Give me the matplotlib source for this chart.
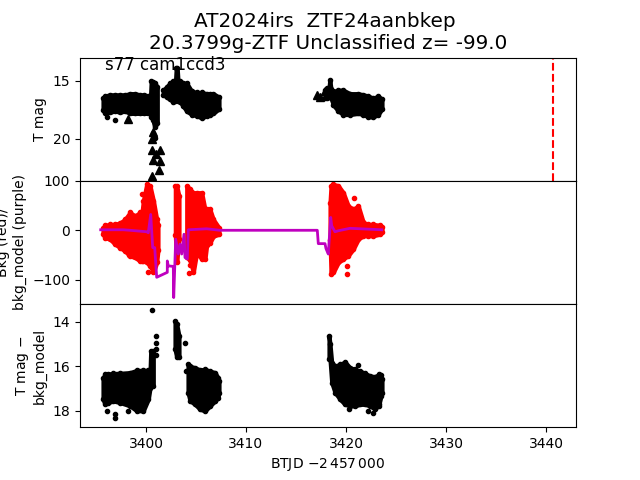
import matplotlib
matplotlib.use("Agg")
import matplotlib.pyplot as plt

# top panel: T mag
mag_t = [3395.7, 3395.9, 3396.4, 3396.9, 3397.4, 3397.9, 3398.4, 3398.9, 3399.4, 3399.8, 3400.2, 3400.45,
	3400.52, 3400.7, 3400.87, 3401.13,
	3401.73, 3402.07, 3402.4, 3402.73, 3402.95, 3403.02, 3403.12, 3403.2, 3403.4, 3403.73, 3404.07, 3404.57, 3405.07, 3405.57, 3406.07, 3406.4, 3406.73, 3407.3,
	3417.9, 3418.07, 3418.3, 3418.38, 3418.5, 3418.75, 3419.23, 3419.73, 3420.4, 3421.23, 3421.73, 3422.23, 3422.73, 3423.23, 3423.6]
mag_top = [16.5, 16.3, 16.2, 16.2, 16.2, 16.2, 16.1, 16.1, 16.2, 16.2, 16.3, 16.3,
	15.0, 15.1, 15.2, 15.5,
	15.8, 15.5, 15.2, 15.0, 15.0, 13.9, 13.9, 15.0, 15.0, 15.2, 15.2, 15.9, 16.0, 16.0, 16.1, 16.1, 16.1, 16.4,
	15.8, 15.6, 15.6, 14.9, 15.7, 15.9, 15.8, 15.8, 16.1, 16.1, 16.2, 16.3, 16.5, 16.3, 16.6]
mag_bot = [17.5, 17.8, 17.7, 17.6, 17.7, 17.6, 17.8, 17.8, 17.8, 17.8, 17.8, 17.8,
	18.1, 18.4, 19.0, 18.6,
	16.2, 16.4, 16.6, 16.8, 16.7, 16.6, 16.6, 16.7, 16.8, 17.2, 17.6, 17.9, 18.0, 18.2, 18.0, 17.9, 17.8, 17.4,
	16.5, 16.5, 16.2, 16.2, 16.5, 17.1, 17.6, 17.9, 17.9, 17.8, 17.9, 18.1, 18.1, 17.9, 17.4]
mag_extra_t = [3396.13, 3396.93, 3400.73, 3400.9]
mag_extra_y = [18.1, 18.4, 19.5, 19.9]
limit_t = [3398.23, 3400.57, 3400.73, 3400.6, 3401.4, 3400.67, 3401.4, 3401.33, 3400.57, 3401.0, 3417.13, 3417.4, 3417.9]
limit_y = [18.3, 20.0, 19.4, 20.95, 20.95, 21.8, 21.9, 22.7, 23.2, 21.3, 16.2, 16.4, 15.9]
mag_breaks = [3401.5, 3410]

# middle panel: background flux
bkg_t = [3395.7, 3395.9, 3396.4, 3396.9, 3397.4, 3397.9, 3398.4, 3398.9, 3399.4, 3399.6, 3399.73, 3400.07, 3400.4, 3400.75, 3401.07, 3401.2,
	3402.93, 3403.07, 3403.3,
	3404.07, 3404.4, 3404.73, 3405.07, 3405.57, 3405.9, 3406.07, 3406.4, 3406.73, 3407.3,
	3418.4, 3418.5, 3418.73, 3419.23, 3419.73, 3420.23, 3420.73, 3421.23, 3421.73, 3422.23, 3422.73, 3423.4, 3423.6]
bkg_hi = [5, 10, 12, 12, 15, 22, 36, 29, 36, 36, 60, 93, 90, 59, 22, 10,
	90, 90, 69,
	90, 83, 76, 76, 76, 42, 42, 42, 22, 5,
	56, 90, 93, 90, 76, 49, 43, 49, 16, 12, 12, 10, 6]
bkg_lo = [-8, -15, -18, -28, -35, -42, -52, -55, -62, -62, -62, -65, -72, -85, -65, -40,
	-10, -65, -18,
	-55, -60, -85, -45, -58, -58, -30, -25, -12, -8,
	-20, -88, -85, -65, -58, -51, -38, -18, -11, -11, -11, -8, -4]
bkg_extra_t = [3398.33, 3399.57, 3400.23, 3404.4, 3404.33, 3420.83, 3420.07, 3420.07, 3418.57]
bkg_extra_y = [-49, 73, -84, -70, -87, 66, -72, -88, -82]
bkg_breaks = [3401.5, 3403.7, 3410]

model_t = [3395.47, 3397.73, 3398.4, 3400.07, 3400.23, 3400.47, 3400.67, 3400.87, 3401.07, 3402.13, 3402.13, 3402.23,
	3402.73, 3402.77, 3402.97, 3403.23, 3403.4, 3403.57, 3403.8, 3403.9, 3404.13, 3404.23, 3406.07, 3407.4,
	3417.13, 3417.23, 3417.9, 3418.0, 3418.23, 3418.47, 3418.57, 3418.9, 3419.23, 3420.4, 3423.57]
model_y = [1, 1, 0, -3, -5, 32, -35, -35, -95, -85, -62, -72,
	-73, -136, -18, -48, -28, -48, -8, -55, -58, 1, 3, 0,
	0, -27, -27, -37, -48, 26, 9, -3, -1, 4, 1]

# bottom panel: T mag - bkg_model
sub_t = [3395.7, 3395.9, 3396.23, 3396.73, 3397.4, 3398.4, 3399.07, 3399.73, 3400.23, 3400.4,
	3400.47, 3400.73,
	3402.9, 3403.07, 3403.3,
	3404.2, 3404.4, 3404.9, 3405.4, 3405.9, 3406.4, 3406.9, 3407.2, 3407.3,
	3418.3, 3418.4, 3418.57, 3418.9, 3419.4, 3419.9, 3420.4, 3420.9, 3421.4, 3421.9, 3422.4, 3422.9, 3423.3, 3423.5, 3423.6]
sub_top = [16.52, 16.37, 16.35, 16.33, 16.32, 16.29, 16.19, 16.19, 16.19, 16.29,
	15.32, 15.32,
	13.97, 14.1, 14.64,
	15.92, 16.0, 16.07, 16.17, 16.14, 16.22, 16.29, 16.52, 16.67,
	14.64, 15.0, 15.84, 15.99, 15.92, 15.81, 16.07, 16.14, 16.22, 16.32, 16.44, 16.47, 16.37, 16.4, 16.6]
sub_bot = [17.49, 17.72, 17.64, 17.57, 17.64, 17.79, 18.01, 18.01, 17.49, 17.0,
	16.9, 16.89,
	15.24, 15.6, 15.6,
	17.19, 17.56, 17.72, 17.94, 18.02, 17.79, 17.57, 17.42, 17.19,
	15.7, 15.7, 16.74, 17.19, 17.49, 17.72, 17.79, 17.79, 17.72, 17.72, 17.79, 17.94, 17.72, 17.34, 17.19]
sub_extra_t = [3396.13, 3396.93, 3396.93, 3398.23, 3400.63, 3401.03, 3401.03, 3401.03, 3401.03, 3403.93, 3404.0, 3421.23, 3420.3, 3422.23, 3422.73, 3423.33]
sub_extra_y = [18.0, 18.17, 18.35, 18.0, 13.48, 14.64, 14.94, 15.24, 15.5, 14.97, 16.2, 15.95, 17.94, 18.01, 18.1, 17.79]
sub_breaks = [3401.5, 3403.7, 3410]

flag_t = 3440.7


def draw_cloud(ax, t, hi, lo, breaks, color):
	# split at the gaps in time so the fill does not bridge them
	start = 0
	for i in range(1, len(t) + 1):
		if i == len(t) or any(t[i - 1] < b < t[i] for b in breaks):
			ax.fill_between(t[start:i], lo[start:i], hi[start:i], color=color, linewidth=3, joinstyle='round')
			start = i
	ax.plot(t, hi, '.', color=color, markersize=6)
	ax.plot(t, lo, '.', color=color, markersize=6)


fig, (ax1, ax2, ax3) = plt.subplots(3, 1, sharex=True, figsize=(6.4, 4.8), dpi=100)
fig.subplots_adjust(hspace=0)

draw_cloud(ax1, mag_t, mag_top, mag_bot, mag_breaks, 'k')
ax1.plot(mag_extra_t, mag_extra_y, 'k.')
ax1.plot(limit_t, limit_y, 'k^')
ax1.axvline(flag_t, color='r', linestyle='--', linewidth=1.5)
ax1.set_ylim(23.6, 13.0)
ax1.set_yticks([15, 20])
ax1.set_ylabel("T mag")
ax1.text(0.05, 0.90, "s77 cam1ccd3", transform=ax1.transAxes, fontsize=12)
ax1.set_title("AT2024irs  ZTF24aanbkep \n20.3799g-ZTF Unclassified z= -99.0", fontsize=14.4)

draw_cloud(ax2, bkg_t, bkg_hi, bkg_lo, bkg_breaks, 'r')
ax2.plot(bkg_extra_t, bkg_extra_y, 'r.')
ax2.plot(model_t, model_y, 'm-', linewidth=2)
ax2.set_ylim(-149, 100)
ax2.set_yticks([-100, 0, 100])
ax2.set_ylabel("Bkg (red)/\nbkg_model (purple)")

draw_cloud(ax3, sub_t, sub_top, sub_bot, sub_breaks, 'k')
ax3.plot(sub_extra_t, sub_extra_y, 'k.')
ax3.set_ylim(18.75, 13.2)
ax3.set_yticks([14, 16, 18])
ax3.set_ylabel("T mag $-$\nbkg_model")
ax3.set_xlabel(r"BTJD $-2\,457\,000$")

ax3.set_xlim(3393.4, 3443.0)
ax3.set_xticks([3400, 3410, 3420, 3430, 3440])
ax1.tick_params(axis='x', bottom=False)
ax2.tick_params(axis='x', bottom=False)

plt.savefig("out.png", dpi=100)
plt.close()
